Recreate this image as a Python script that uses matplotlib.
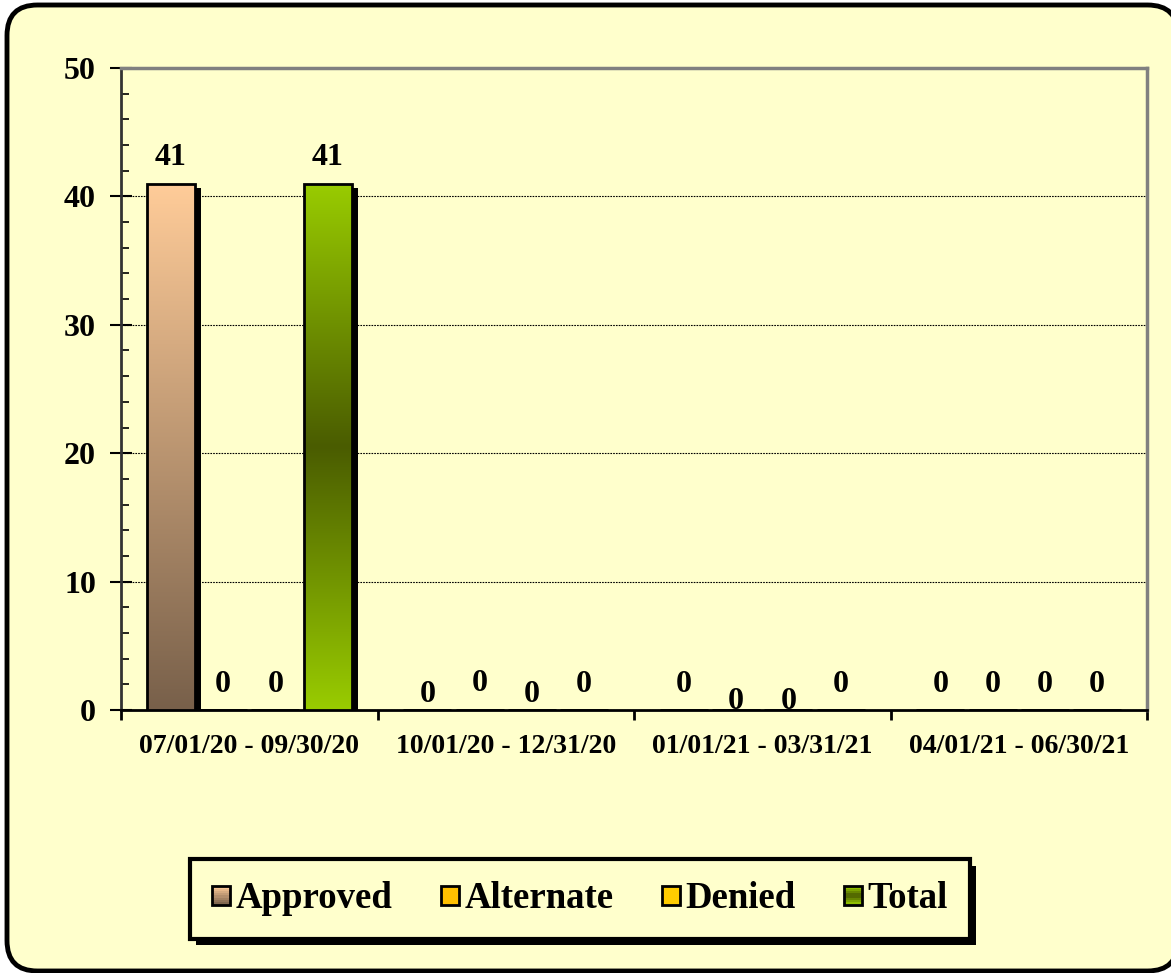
import numpy as np
import matplotlib
matplotlib.use("Agg")
import matplotlib.pyplot as plt
from matplotlib.patches import FancyBboxPatch, Rectangle, Patch
from matplotlib.colors import LinearSegmentedColormap
import matplotlib.patheffects as pe
from matplotlib.legend_handler import HandlerPatch

# ---- data ----
categories = ["07/01/20 - 09/30/20", "10/01/20 - 12/31/20",
              "01/01/21 - 03/31/21", "04/01/21 - 06/30/21"]
series_names = ["Approved", "Alternate", "Denied", "Total"]
approved = [41, 0, 0, 0]
alternate = [0, 0, 0, 0]
denied = [0, 0, 0, 0]
total = [41, 0, 0, 0]
# vertical nudge (pixels) of the data labels, as in the reference
label_nudge = {
    "Approved": [0, -10, 0, 0],
    "Alternate": [0, 1, -17, 0],
    "Denied": [0, -10, -17, 0],
    "Total": [0, 0, 0, 0],
}
yticks = [0, 10, 20, 30, 40, 50]

BG = "#FFFFCC"
FONT = "Liberation Serif"
plt.rcParams["font.family"] = [FONT, "DejaVu Serif"]
plt.rcParams["font.weight"] = "bold"

W, H = 1171, 973
fig = plt.figure(figsize=(W / 100, H / 100), dpi=100)
fig.patch.set_facecolor("white")

# outer rounded frame
frame = FancyBboxPatch((7 / W, 2 / H), (1178 - 7) / W, (971 - 5) / H,
                       boxstyle="round,pad=0,rounding_size=0.026",
                       transform=fig.transFigure, facecolor=BG,
                       edgecolor="black", linewidth=3.5, zorder=-5,
                       mutation_aspect=W / H)
fig.patches.append(frame)

ax = fig.add_axes([121 / W, 1 - 710 / H, (1147 - 121) / W, (710 - 68) / H])
ax.set_zorder(1)
ax.set_facecolor(BG)

for side in ["top", "right"]:
    ax.spines[side].set_color("#808080")
    ax.spines[side].set_linewidth(2.5)
for side in ["left", "bottom"]:
    ax.spines[side].set_color("black")
    ax.spines[side].set_linewidth(2)
ax.spines["left"].set_color("#333333")

slot = 0.204
bw = 0.187
x = np.arange(len(categories)) + 0.5
all_vals = [approved, alternate, denied, total]

grad_approved = LinearSegmentedColormap.from_list(
    "ap", [(0, "#78604A"), (1, "#FFCC99")])
grad_total = LinearSegmentedColormap.from_list(
    "tot", [(0, "#99CC00"), (0.5, "#4A5C00"), (1, "#99CC00")])
cmaps = [grad_approved, None, None, grad_total]
solid = ["#FFCC99", "#FFC000", "#FFCC00", "#669900"]

shadow_fx = [pe.SimplePatchShadow(offset=(4.5, -3.5), shadow_rgbFace="black",
                                  alpha=1.0)]
for i, (name, vals) in enumerate(zip(series_names, all_vals)):
    pos = x + (i - 1.5) * slot
    ax.bar(pos, vals, width=bw, facecolor="none", edgecolor="none",
           path_effects=shadow_fx, zorder=2)
    bars = ax.bar(pos, vals, width=bw, facecolor=solid[i], edgecolor="black",
                  linewidth=2, zorder=4)
    for b, v in zip(bars, vals):
        if v > 0 and cmaps[i] is not None:
            b.set_facecolor("none")
            grad = np.linspace(0, 1, 256).reshape(-1, 1)
            im = ax.imshow(grad, cmap=cmaps[i], aspect="auto",
                           extent=(b.get_x(), b.get_x() + bw, 0, v),
                           origin="lower", zorder=3)
            im.set_clip_path(b)
    for p, v, nud in zip(pos, vals, label_nudge[name]):
        ax.annotate(str(v), (p, v), xytext=(0, 8 + nud * 0.72),
                    textcoords="offset points", ha="center", va="bottom",
                    fontsize=23, fontweight="bold", family=FONT, zorder=5,
                    annotation_clip=False)

ax.set_xlim(0, len(categories))
ax.set_ylim(0, 50)

ax.set_yticks(yticks)
ax.set_yticklabels([str(v) for v in yticks], fontsize=23, fontweight="bold",
                   family=FONT)
ax.set_yticks(np.arange(0, 51, 2), minor=True)
ax.tick_params(axis="y", which="major", direction="inout", length=16,
               width=1.5, pad=10)
ax.tick_params(axis="y", which="minor", direction="in", length=6, width=1.2)
ax.set_xticks(np.arange(0, len(categories) + 1))
ax.set_xticklabels([])
ax.set_xticks(np.arange(len(categories)) + 0.5, minor=True)
ax.set_xticklabels(categories, minor=True, fontsize=20, fontweight="bold",
                   family=FONT)
ax.tick_params(axis="x", which="major", direction="out", length=7, width=2)
ax.tick_params(axis="x", which="minor", length=0, pad=17)

ax.yaxis.grid(True, which="major", color="black", linestyle=(0, (1.5, 1)),
              linewidth=0.8)
ax.set_axisbelow(True)


# legend with gradient squares
class GradHandler(HandlerPatch):
    def __init__(self, cmap, color):
        super().__init__()
        self.cmap = cmap
        self.color = color

    def create_artists(self, legend, orig_handle, xdescent, ydescent, width,
                       height, fontsize, trans):
        s = min(width, height)
        x0 = (width - s) / 2 - xdescent
        y0 = (height - s) / 2 - ydescent
        arts = []
        if self.cmap is not None:
            n = 8
            for k in range(n):
                c = self.cmap((k + 0.5) / n)
                arts.append(Rectangle((x0, y0 + s * k / n), s, s / n,
                                      facecolor=c, edgecolor="none",
                                      transform=trans))
        else:
            arts.append(Rectangle((x0, y0), s, s, facecolor=self.color,
                                  edgecolor="none", transform=trans))
        arts.append(Rectangle((x0, y0), s, s, facecolor="none",
                              edgecolor="black", linewidth=2,
                              transform=trans))
        return arts


handles = [Patch(label=n) for n in series_names]
hmap = {h: GradHandler(cmaps[i], solid[i]) for i, h in enumerate(handles)}
leg = fig.legend(handles=handles, loc="center",
                 bbox_to_anchor=(580 / W, 1 - 899 / H),
                 ncol=4, frameon=True, fancybox=False, shadow=False,
                 framealpha=1.0,
                 prop={"family": FONT, "weight": "bold", "size": 26.5},
                 handler_map=hmap, handlelength=0.5, handleheight=0.5,
                 handletextpad=0.15, columnspacing=1.3,
                 borderpad=0.6, borderaxespad=0)
leg.get_frame().set_facecolor(BG)
leg.get_frame().set_edgecolor("black")
leg.get_frame().set_linewidth(3)
leg.get_frame().set_path_effects([
    pe.SimplePatchShadow(offset=(4.5, -4.5), shadow_rgbFace="black",
                         alpha=1.0), pe.Normal()])

fig.savefig("out.png", dpi=100, facecolor=fig.get_facecolor())
